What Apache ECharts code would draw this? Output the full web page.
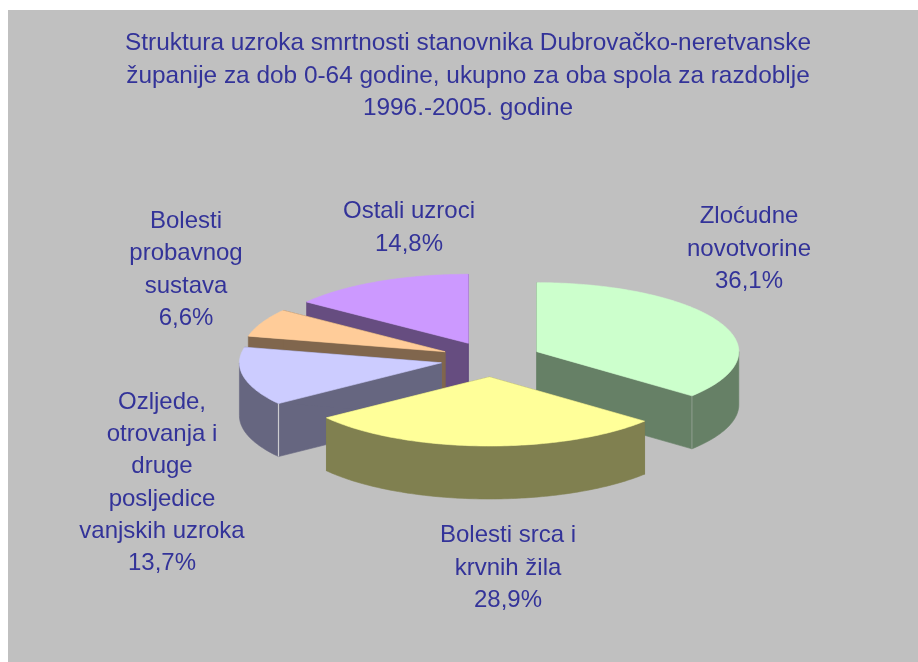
<!DOCTYPE html>
<html>
<head>
<meta charset="utf-8">
<style>html,body{margin:0;padding:0;background:#fff}#chart{width:918px;height:662px}</style>
<script src="https://cdn.jsdelivr.net/npm/echarts@6/dist/echarts.min.js"></script>
</head>
<body>
<div id="chart"></div>
<script>
var chartTitle = 'Struktura uzroka smrtnosti stanovnika Dubrovačko-neretvanske\nžupanije za dob 0-64 godine, ukupno za oba spola za razdoblje\n1996.-2005. godine';
var categories = ['Zloćudne\nnovotvorine', 'Bolesti srca i\nkrvnih žila', 'Ozljede,\notrovanja i\ndruge\nposljedice\nvanjskih uzroka', 'Bolesti\nprobavnog\nsustava', 'Ostali uzroci'];
var shares = [36.1, 28.9, 13.7, 6.6, 14.8];

// look of the slices, same order as categories
var topColors = ['#ccffcc', '#ffff99', '#ccccff', '#ffcc99', '#cc99ff'];
var sideColors = ['#668066', '#808050', '#666680', '#80664d', '#664d80'];
var edgeAlpha = [0.3, 0, 0.9, 0, 0];
var labelPos = [[749, 249], [508, 568], [162, 483], [186, 270], [409, 228]];

// tilted pie geometry
var cx = 491, cy = 359.2;
var radiusX = 202, radiusY = 69, depth = 53;
var explode = 50.6, explodeY = 17.8;
var textColor = '#333399';
var fontName = '"Liberation Sans", Arial, sans-serif';

var total = shares.reduce(function (a, b) { return a + b; }, 0);
var drawOrder = [4, 3, 2, 0, 1];

function rimPoint(ox, oy, angle, dy) {
  return [ox + radiusX * Math.sin(angle), oy - radiusY * Math.cos(angle) + dy];
}

function sliceAngles(idx) {
  var before = 0;
  for (var i = 0; i < idx; i++) before += shares[i];
  return [before / total * 2 * Math.PI, (before + shares[idx]) / total * 2 * Math.PI];
}

function arcPoints(ox, oy, from, to, dy) {
  var pts = [];
  var steps = Math.ceil((to - from) / (Math.PI / 180));
  for (var s = 0; s <= steps; s++) {
    pts.push(rimPoint(ox, oy, from + (to - from) * s / steps, dy));
  }
  return pts;
}

function solid(points, color) {
  return {
    type: 'polygon',
    shape: { points: points },
    style: { fill: color, stroke: color, lineWidth: 0.6 }
  };
}

function renderSlice(params, api) {
  var idx = api.value(0);
  var ang = sliceAngles(idx);
  var mid = (ang[0] + ang[1]) / 2;
  var ox = cx + explode * Math.sin(mid);
  var oy = cy - explodeY * Math.cos(mid);
  var side = sideColors[idx];
  var p0 = rimPoint(ox, oy, ang[0], 0), p0low = rimPoint(ox, oy, ang[0], depth);
  var p1 = rimPoint(ox, oy, ang[1], 0), p1low = rimPoint(ox, oy, ang[1], depth);
  var children = [
    solid([[ox, oy], p0, p0low, [ox, oy + depth]], side),
    solid([[ox, oy], p1, p1low, [ox, oy + depth]], side)
  ];
  // only the part of the rim that faces the viewer gets a wall
  var wallFrom = Math.max(ang[0], Math.PI / 2);
  var wallTo = Math.min(ang[1], Math.PI * 1.5);
  if (wallTo > wallFrom) {
    var upper = arcPoints(ox, oy, wallFrom, wallTo, 0);
    var lower = arcPoints(ox, oy, wallFrom, wallTo, depth);
    children.push(solid(upper.concat(lower.reverse()), side));
  }
  if (edgeAlpha[idx] > 0) {
    var useStart = Math.cos(ang[0]) < 0;
    var a = useStart ? p0 : p1, b = useStart ? p0low : p1low;
    children.push({
      type: 'line',
      shape: { x1: a[0], y1: a[1], x2: b[0], y2: b[1] },
      style: { stroke: '#d8d8d8', lineWidth: 1.2, opacity: edgeAlpha[idx] }
    });
  }
  children.push(solid([[ox, oy]].concat(arcPoints(ox, oy, ang[0], ang[1], 0)), topColors[idx]));
  return { type: 'group', children: children };
}

function renderLabel(params, api) {
  var idx = api.value(0);
  return {
    type: 'text',
    x: labelPos[idx][0],
    y: labelPos[idx][1],
    style: {
      text: categories[idx] + '\n' + shares[idx].toFixed(1).replace('.', ',') + '%',
      fill: textColor,
      font: '24px ' + fontName,
      lineHeight: 32.3,
      align: 'center',
      verticalAlign: 'middle'
    }
  };
}

var myChart = echarts.init(document.getElementById('chart'), null, { renderer: 'canvas' });
myChart.setOption({
  backgroundColor: '#ffffff',
  animation: false,
  title: {
    text: chartTitle,
    left: 463,
    top: 22.5,
    textAlign: 'center',
    textStyle: { color: textColor, fontFamily: fontName, fontSize: 24.4, fontWeight: 'normal', lineHeight: 32.5 }
  },
  graphic: [{
    type: 'rect',
    z: -10,
    shape: { x: 8, y: 10, width: 910, height: 652 },
    style: { fill: '#c0c0c0' }
  }],
  series: [{
    type: 'custom',
    coordinateSystem: 'none',
    silent: true,
    z: 2,
    data: drawOrder.map(function (i) { return [i]; }),
    renderItem: renderSlice
  }, {
    type: 'custom',
    coordinateSystem: 'none',
    silent: true,
    z: 3,
    data: categories.map(function (c, i) { return [i]; }),
    renderItem: renderLabel
  }]
});
</script>
</body>
</html>
